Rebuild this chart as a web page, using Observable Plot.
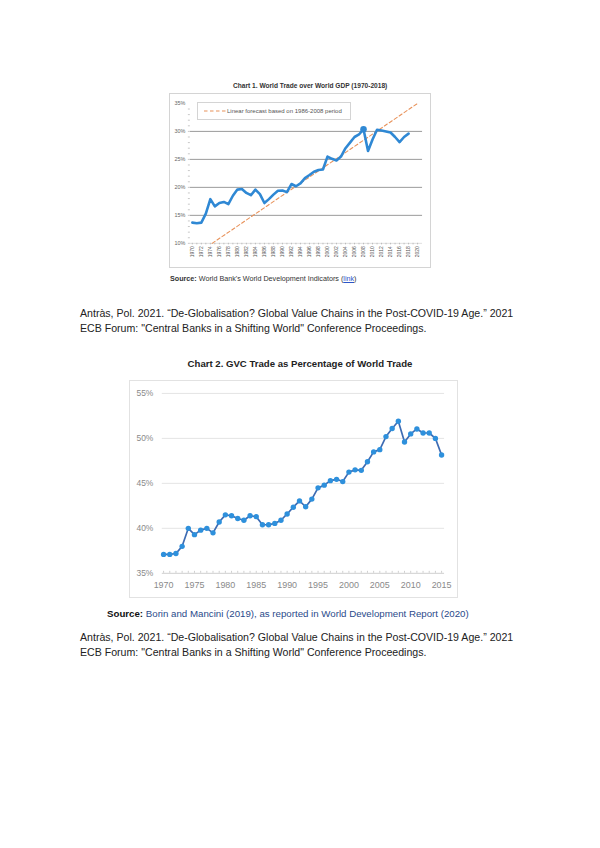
<!DOCTYPE html>
<html><head><meta charset="utf-8">
<script src="https://cdn.jsdelivr.net/npm/d3@7"></script>
<script src="https://cdn.jsdelivr.net/npm/@observablehq/plot@0.6"></script>
<style>
body{margin:0;background:#fff;width:600px;height:848px;position:relative;overflow:hidden;font-family:"Liberation Sans",Arial,sans-serif}
.abs{position:absolute;white-space:nowrap}
.narrow{font-family:"Liberation Sans",Arial,sans-serif}
.cite{font-size:10.6px;line-height:15px;color:#222}
.box{position:absolute;border:1px solid #d4d4d4;box-sizing:border-box}
svg{position:absolute;left:0;top:0;overflow:visible}
</style></head><body>
<div class="abs narrow" style="left:233px;top:82px;font-size:6.6px;font-weight:bold;color:#333">Chart 1. World Trade over World GDP (1970-2018)</div>
<div class="box" id="c1" style="left:169px;top:93px;width:262px;height:175px"></div>
<div class="abs narrow" style="left:170px;top:274px;font-size:7.2px;color:#333"><b>Source:</b> World Bank's World Development Indicators (<span style="color:#2b55c8;text-decoration:underline">link</span>)</div>
<div class="abs cite" style="left:80px;top:306px">Antràs, Pol. 2021. “De-Globalisation? Global Value Chains in the Post-COVID-19 Age.” 2021<br>ECB Forum: "Central Banks in a Shifting World" Conference Proceedings.</div>

<div class="abs narrow" style="left:0;width:600px;text-align:center;top:358px;font-size:9.6px;font-weight:bold;color:#222">Chart 2. GVC Trade as Percentage of World Trade</div>
<div class="box" id="c2" style="left:129px;top:380px;width:329px;height:218px;border-color:#e2e2e2"></div>
<div class="abs narrow" style="left:107px;top:608px;font-size:9.7px;color:#333"><b style="color:#111">Source:</b> <span style="color:#2a4a8a">Borin and Mancini (2019), as reported in World Development Report (2020)</span></div>
<div class="abs cite" style="left:80px;top:630px">Antràs, Pol. 2021. “De-Globalisation? Global Value Chains in the Post-COVID-19 Age.” 2021<br>ECB Forum: "Central Banks in a Shifting World" Conference Proceedings.</div>

<script>
// ---- Chart 1 data: World trade over world GDP (%)
const years1 = d3.range(1970, 2019);
const trade1 = [13.7,13.6,13.7,15.3,17.9,16.6,17.2,17.4,17.0,18.5,
                19.6,19.7,19.0,18.6,19.6,18.8,17.2,17.9,18.7,19.4,
                19.45,19.15,20.6,20.2,20.7,21.65,22.2,22.8,23.1,23.2,
                25.5,25.1,24.8,25.5,27.0,28.0,29.0,29.45,30.4,26.5,
                28.55,30.3,30.15,30.0,29.8,29.0,28.1,29.0,29.6];
const trendYears = [1974.4, 2020];
const trendValues = [10, 35];
const yTicks1 = [10,15,20,25,30,35];
const xTicks1 = d3.range(1970, 2021, 2);
const legendLabel1 = "Linear forecast based on 1986-2008 period";

// ---- Chart 2 data: GVC trade as % of world trade
const years2 = d3.range(1970, 2016);
const gvc2 = [37.1,37.1,37.2,38.0,40.0,39.3,39.8,40.0,39.5,40.7,
              41.5,41.4,41.1,40.9,41.4,41.3,40.4,40.4,40.55,40.9,
              41.6,42.35,43.05,42.4,43.25,44.5,44.8,45.3,45.45,45.2,
              46.25,46.5,46.45,47.4,48.5,48.75,50.2,51.1,51.9,49.6,
              50.5,51.05,50.6,50.6,50.0,48.15];
const yTicks2 = [35,40,45,50,55];
const xTicks2 = d3.range(1970, 2016, 5);

const FONT = '"Liberation Sans",Arial,sans-serif';

const d1 = years1.map((y,i)=>({year:y, v:trade1[i]}));
const t1 = trendYears.map((y,i)=>({year:y, v:trendValues[i]}));
const peak1 = d1.filter(d => d.year === 2008);

const c1 = Plot.plot({
  width: 262, height: 175,
  marginLeft: 21, marginRight: 7, marginTop: 10, marginBottom: 24,
  x: {domain:[1970,2020], range:[23, 250], axis:null},
  y: {domain:[10,35], axis:null},
  style: {fontFamily: FONT, background:"transparent", overflow:"visible"},
  marks: [
    Plot.ruleY([15,20,25,30], {stroke:"#8f8f8f", strokeWidth:0.9}),
    Plot.ruleY([10], {stroke:"#d8d8d8", strokeWidth:0.8}),
    Plot.axisY({ticks: d3.range(10,35,1), tickSize:2, text:null, label:null, stroke:"#c8c8c8"}),
    Plot.axisY({ticks: yTicks1, tickFormat: d=>d+"%", tickSize:0, tickPadding:5, fontSize:5.5, fill:"#666", label:null}),
    Plot.axisX({ticks: years1.concat([2019,2020]), tickSize:1.5, text:null, label:null, stroke:"#bbb"}),
    Plot.axisX({ticks: xTicks1, tickFormat: d=>String(d), tickRotate:-90, tickSize:0, tickPadding:3, fontSize:5, fill:"#555", label:null}),
    Plot.line(t1, {x:"year", y:"v", stroke:"#e8925a", strokeWidth:1.1, strokeDasharray:"3.5,2.5"}),
    Plot.line(d1, {x:"year", y:"v", stroke:"#2f88d4", strokeWidth:2.6, strokeLinejoin:"round"}),
    Plot.dot(peak1, {x:"year", y:"v", r:3.3, fill:"#2f88d4"})
  ]
});
document.getElementById("c1").appendChild(c1);
c1.style.left = "-1px"; c1.style.top = "-1px";

// legend overlay
const leg = document.createElement("div");
leg.className = "abs narrow";
leg.style.cssText = "left:27px;top:8px;width:154px;height:18px;border:1px solid #d4d4d4;background:#fff;box-sizing:border-box;font-size:6px;color:#555;line-height:16px;";
leg.innerHTML = '<svg width="22" height="16" style="position:absolute;left:6px;top:0"><line x1="0" x2="22" y1="8" y2="8" stroke="#e8925a" stroke-width="1.1" stroke-dasharray="3.5,2.5"/></svg><span style="position:absolute;left:29px;top:0">'+legendLabel1+'</span>';
document.getElementById("c1").appendChild(leg);

const d2 = years2.map((y,i)=>({year:y, v:gvc2[i]}));
const c2 = Plot.plot({
  width: 329, height: 218,
  marginLeft: 33, marginRight: 12, marginTop: 13, marginBottom: 24,
  x: {domain:[1970,2015], range:[34.3, 314], axis:null},
  y: {domain:[35,55], axis:null},
  style: {fontFamily: FONT, background:"transparent", overflow:"visible"},
  marks: [
    Plot.ruleY([40,45,50,55], {stroke:"#e4e4e4", strokeWidth:1}),
    Plot.ruleY([35], {stroke:"#cfcfcf", strokeWidth:1}),
    Plot.axisX({ticks: years2, tickSize:-2, text:null, label:null, stroke:"#cfcfcf"}),
    Plot.axisX({ticks: xTicks2, tickFormat: d=>String(d), tickSize:0, tickPadding:8, fontSize:9, fill:"#8a8a8a", label:null}),
    Plot.axisY({ticks: yTicks2, tickFormat: d=>d+"%", tickSize:0, tickPadding:9, fontSize:8.5, fill:"#8a8a8a", label:null}),
    Plot.line(d2, {x:"year", y:"v", stroke:"#3e6cb3", strokeWidth:1.7}),
    Plot.dot(d2, {x:"year", y:"v", r:2.7, fill:"#2e90dc"})
  ]
});
document.getElementById("c2").appendChild(c2);
c2.style.left = "-1px"; c2.style.top = "-1px";
</script>
</body></html>
